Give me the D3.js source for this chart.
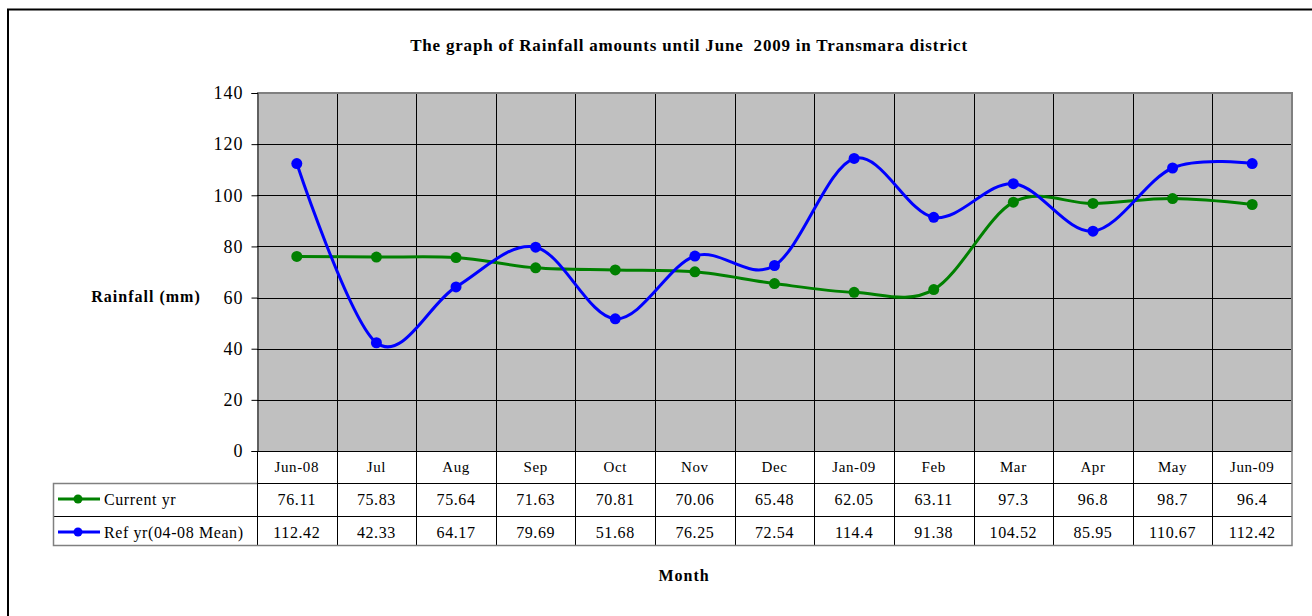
<!DOCTYPE html>
<html><head><meta charset="utf-8">
<script src="https://cdn.jsdelivr.net/npm/d3@7"></script>
<style>body{margin:0;background:#fff}svg{display:block}</style>
</head><body>
<script>
const months = ["Jun-08","Jul","Aug","Sep","Oct","Nov","Dec","Jan-09","Feb","Mar","Apr","May","Jun-09"];
const currentYr = [76.11,75.83,75.64,71.63,70.81,70.06,65.48,62.05,63.11,97.3,96.8,98.7,96.4];
const refYr = [112.42,42.33,64.17,79.69,51.68,76.25,72.54,114.4,91.38,104.52,85.95,110.67,112.42];
const currentLabels = ["76.11","75.83","75.64","71.63","70.81","70.06","65.48","62.05","63.11","97.3","96.8","98.7","96.4"];
const refLabels = ["112.42","42.33","64.17","79.69","51.68","76.25","72.54","114.4","91.38","104.52","85.95","110.67","112.42"];
const yTicks = [0,20,40,60,80,100,120,140];
const seriesNames = ["Current yr","Ref yr(04-08 Mean)"];
const seriesColors = ["#008000","#0000FF"];

const W = 1312, H = 616;
const svg = d3.select("body").append("svg").attr("width", W).attr("height", H);
const font = "'Liberation Serif','Times New Roman',serif";

// outer border
svg.append("rect").attr("x", 8).attr("y", 9.5).attr("width", 1320).attr("height", 640)
  .attr("fill", "#fff").attr("stroke", "#000").attr("stroke-width", 2);

const L = 257, R = 1292, T = 93, B = 451;
const x = d3.scaleBand().domain(months).range([L, R]).padding(0);
const y = d3.scaleLinear().domain([0, 140]).range([B, T]);

// plot bg
svg.append("rect").attr("x", L).attr("y", T).attr("width", R - L).attr("height", B - T).attr("fill", "#C0C0C0");

// horizontal grid
svg.append("g").selectAll("line").data(yTicks.filter(d => d > 0 && d < 140)).join("line")
  .attr("x1", L).attr("x2", R).attr("y1", d => Math.round(y(d)) + 0.5).attr("y2", d => Math.round(y(d)) + 0.5)
  .attr("stroke", "#000").attr("stroke-width", 1);

// vertical grid + table column lines
const bounds = months.slice(1).map(m => x(m));
svg.append("g").selectAll("line").data(bounds).join("line")
  .attr("x1", d => Math.round(d) + 0.5).attr("x2", d => Math.round(d) + 0.5)
  .attr("y1", T).attr("y2", 545)
  .attr("stroke", "#000").attr("stroke-width", 1);

// plot top/right border (gray)
svg.append("path").attr("d", `M${L},${T} H${R} V${B}`).attr("fill", "none").attr("stroke", "#808080").attr("stroke-width", 2);

// y axis
const yAxis = d3.axisLeft(y).tickValues(yTicks).tickSize(6).tickPadding(8);
const ga = svg.append("g").attr("transform", `translate(${L + 0.5},0)`).call(yAxis);
ga.select(".domain").attr("stroke", "#000");
ga.selectAll(".tick line").attr("stroke", "#000");
ga.selectAll(".tick text").attr("font-family", font).attr("font-size", 18).attr("letter-spacing", 1).attr("fill", "#000");

// table
const rowY = [451, 483, 516, 545];
const tbl = svg.append("g");
tbl.append("line").attr("x1", L + 0.5).attr("x2", L + 0.5).attr("y1", 451).attr("y2", 545).attr("stroke", "#000");
[483, 516].forEach(yy => tbl.append("line").attr("x1", 53).attr("x2", R).attr("y1", yy + 0.5).attr("y2", yy + 0.5).attr("stroke", "#000"));
tbl.append("line").attr("x1", L).attr("x2", R).attr("y1", 451.5).attr("y2", 451.5).attr("stroke", "#000");
tbl.append("path").attr("d", `M${R},451 V545.5 H53.5 V483.5 H${L}`).attr("fill", "none").attr("stroke", "#808080").attr("stroke-width", 1.5);

tbl.selectAll("text.cat").data(months).join("text").attr("class", "cat")
  .attr("x", d => x(d) + x.bandwidth() / 2).attr("y", 472).attr("text-anchor", "middle")
  .attr("font-family", font).attr("font-size", 15).attr("letter-spacing", 0.6).text(d => d);

[currentLabels, refLabels].forEach((labs, r) => {
  tbl.append("g").selectAll("text").data(labs).join("text")
    .attr("x", (d, i) => x(months[i]) + x.bandwidth() / 2).attr("y", rowY[r + 1] + 22)
    .attr("text-anchor", "middle").attr("font-family", font).attr("font-size", 16).attr("letter-spacing", 0.6).text(d => d);
  const ly = rowY[r + 1] + 16;
  tbl.append("line").attr("x1", 58).attr("x2", 100).attr("y1", ly).attr("y2", ly).attr("stroke", seriesColors[r]).attr("stroke-width", 3);
  tbl.append("circle").attr("cx", 78).attr("cy", ly).attr("r", 4.5).attr("fill", seriesColors[r]);
  tbl.append("text").attr("x", 104).attr("y", rowY[r + 1] + 22).attr("font-family", font).attr("font-size", 16)
    .attr("letter-spacing", 0.6).style("white-space", "pre").text(seriesNames[r]);
});

// lines
const line = d3.line().x((d, i) => x(months[i]) + x.bandwidth() / 2).y(d => y(d)).curve(d3.curveCatmullRom.alpha(0));
[currentYr, refYr].forEach((vals, s) => {
  svg.append("path").datum(vals).attr("d", line).attr("fill", "none").attr("stroke", seriesColors[s]).attr("stroke-width", 3);
  svg.append("g").selectAll("circle").data(vals).join("circle")
    .attr("cx", (d, i) => x(months[i]) + x.bandwidth() / 2).attr("cy", d => y(d)).attr("r", 5.5).attr("fill", seriesColors[s]);
});

// titles
svg.append("text").attr("x", 689).attr("y", 51).attr("text-anchor", "middle").attr("font-family", font)
  .attr("font-weight", "bold").attr("font-size", 17).attr("letter-spacing", 0.8).style("white-space", "pre")
  .text("The graph of Rainfall amounts until June  2009 in Transmara district");
svg.append("text").attr("x", 146).attr("y", 302).attr("text-anchor", "middle").attr("font-family", font)
  .attr("font-weight", "bold").attr("font-size", 16).attr("letter-spacing", 1).text("Rainfall (mm)");
svg.append("text").attr("x", 684).attr("y", 581).attr("text-anchor", "middle").attr("font-family", font)
  .attr("font-weight", "bold").attr("font-size", 16).attr("letter-spacing", 1).text("Month");
</script>
</body></html>
